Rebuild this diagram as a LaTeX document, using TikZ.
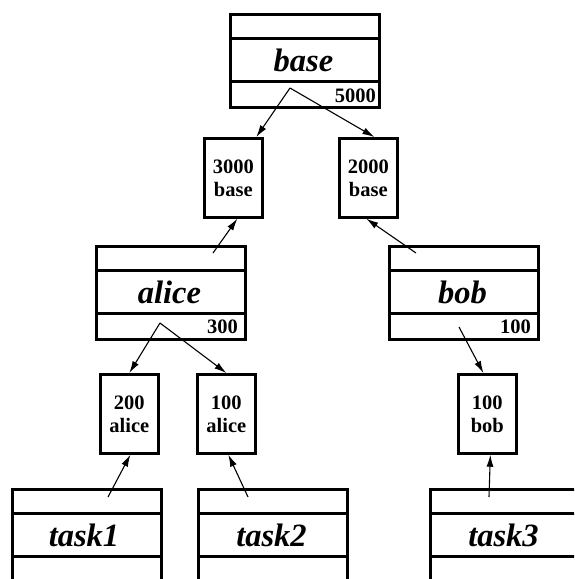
\documentclass[tikz,border=0pt]{standalone}
\usepackage{fontspec}
\setmainfont{Liberation Serif}
\usetikzlibrary{arrows.meta}
\tikzset{
  bigbox/.style={draw, line width=2.7pt, minimum width=149pt, minimum height=93pt, inner sep=0pt, anchor=north west},
  smallbox/.style={draw, line width=2.7pt, minimum width=58pt, minimum height=79pt, inner sep=0pt, anchor=north west},
  rowline/.style={line width=2.7pt},
  arr/.style={line width=1.1pt, -{Latex[length=12pt,width=7pt]}},
  namelbl/.style={font=\fontsize{32.5}{32.5}\selectfont\bfseries\itshape, inner sep=0pt},
  numlbl/.style={font=\fontsize{20.5}{23}\selectfont\bfseries, inner sep=0pt, anchor=base east},
  smalllbl/.style={font=\fontsize{20.5}{23}\selectfont\bfseries, align=center, inner sep=0pt},
}
\newcommand{\rows}[1]{%
  \draw[rowline] ([yshift=-25.5pt]#1.north west) -- ([yshift=-25.5pt]#1.north east);
  \draw[rowline] ([yshift=-68.5pt]#1.north west) -- ([yshift=-68.5pt]#1.north east);
}
\begin{document}
\begin{tikzpicture}[x=1pt,y=-1pt]
\useasboundingbox (0,0) rectangle (574,579);
\clip (0,0) rectangle (574,579);
% big boxes
\node[bigbox] (base) at (229,13) {};
\node[bigbox] (alice) at (95,245) {};
\node[bigbox] (bob) at (388,245) {};
\node[bigbox] (task1) at (11,488) {};
\node[bigbox] (task2) at (197,488) {};
\node[bigbox] (task3) at (429,488) {};
\rows{base}\rows{alice}\rows{bob}\rows{task1}\rows{task2}\rows{task3}
% names
\node[namelbl] (nbase) at (303.5,60) {base};
\node[namelbl] (nalice) at (169.5,292) {alice};
\node[namelbl] (nbob) at (462.5,292) {bob};
\node[namelbl] (ntask1) at (84,535) {task1};
\node[namelbl] (ntask2) at (271.5,535) {task2};
\node[namelbl] (ntask3) at (503.5,535) {task3};
% numbers
\node[numlbl] (vbase) at (376,102) {5000};
\node[numlbl] (valice) at (238,333) {300};
\node[numlbl] (vbob) at (531,333) {100};
% small boxes
\node[smallbox] (s3000) at (203,137) {};
\node[smalllbl] at (s3000.center) {3000\\base};
\node[smallbox] (s2000) at (338,137) {};
\node[smalllbl] at (s2000.center) {2000\\base};
\node[smallbox] (s200a) at (99,373) {};
\node[smalllbl] at (s200a.center) {200\\alice};
\node[smallbox] (s100a) at (196,373) {};
\node[smalllbl] at (s100a.center) {100\\alice};
\node[smallbox] (s100b) at (457,373) {};
\node[smalllbl] at (s100b.center) {100\\bob};
% arrow start points
\coordinate (pbase) at (290,88);
\coordinate (palice) at (160,323);
\coordinate (pbob) at (459,327);
\coordinate (ualice) at (213,253);
\coordinate (ubob) at (416,253);
\coordinate (ut1) at (108,497);
\coordinate (ut2) at (248,497);
\coordinate (ut3) at (489,497);
% arrows
\draw[arr] (pbase) -- ([xshift=23pt]s3000.north);
\draw[arr] (pbase) -- ([xshift=6pt]s2000.north);
\draw[arr] (ualice) -- ([xshift=4pt]s3000.south);
\draw[arr] (ubob) -- ([xshift=-2pt]s2000.south);
\draw[arr] (palice) -- ([xshift=0pt]s200a.north);
\draw[arr] (palice) -- ([xshift=0pt]s100a.north);
\draw[arr] (pbob) -- ([xshift=-4pt]s100b.north);
\draw[arr] (ut1) -- ([xshift=1pt]s200a.south);
\draw[arr] (ut2) -- ([xshift=2pt]s100a.south);
\draw[arr] (ut3) -- ([xshift=3pt]s100b.south);
\end{tikzpicture}
\end{document}
